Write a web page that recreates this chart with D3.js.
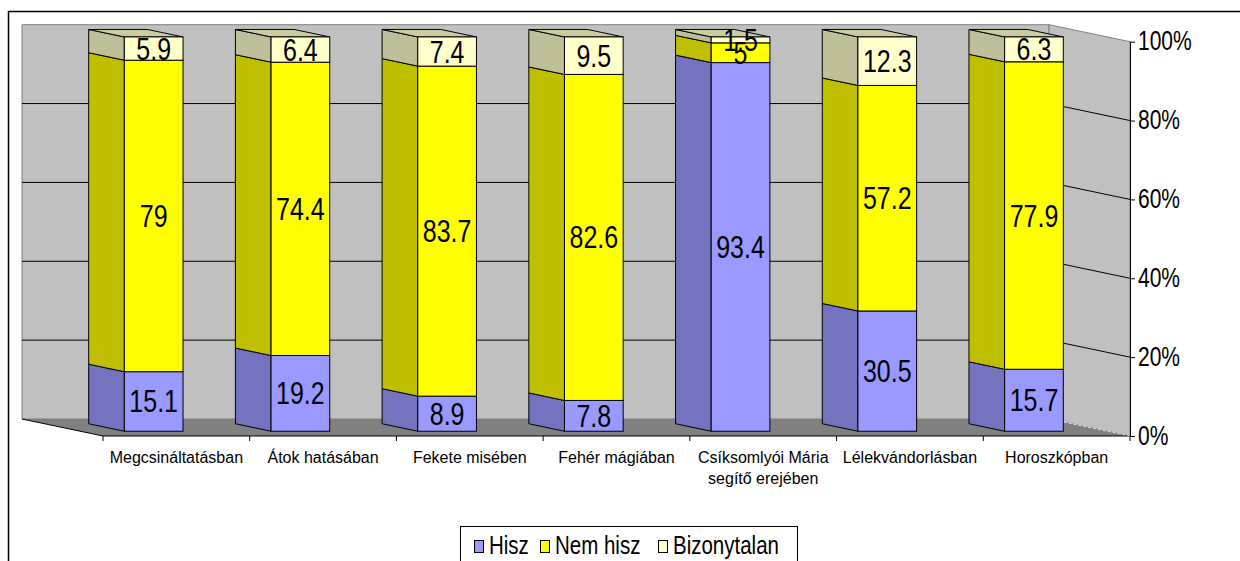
<!DOCTYPE html>
<html>
<head>
<meta charset="utf-8">
<script src="https://cdn.jsdelivr.net/npm/d3@7"></script>
<style>
  body { margin: 0; background: #fff; }
  svg { display: block; font-family: "Liberation Sans", Arial, sans-serif; }
</style>
</head>
<body>
<svg width="1240" height="561"></svg>
<script>
// categories (the "|" marks a line break in the label)
const categories = [
  "Megcsináltatásban",
  "Átok hatásában",
  "Fekete misében",
  "Fehér mágiában",
  "Csíksomlyói Mária|segítő erejében",
  "Lélekvándorlásban",
  "Horoszkópban",
];
const seriesNames = ["Hisz", "Nem hisz", "Bizonytalan"];
const hisz = [15.1, 19.2, 8.9, 7.8, 93.4, 30.5, 15.7];
const nemHisz = [79, 74.4, 83.7, 82.6, 5, 57.2, 77.9];
const bizonytalan = [5.9, 6.4, 7.4, 9.5, 1.5, 12.3, 6.3];
const valueTicks = [0, 0.2, 0.4, 0.6, 0.8, 1];

const frontColor = { "Hisz": "#9999FF", "Nem hisz": "#FFFF00", "Bizonytalan": "#FFFFCC" };
const sideColor = { "Hisz": "#7373BF", "Nem hisz": "#BFBF00", "Bizonytalan": "#BFBF99" };
const topColor = { "Hisz": "#8080D6", "Nem hisz": "#CCCC00", "Bizonytalan": "#CCCCA3" };

const svg = d3.select("svg");

// 3d box: front plane scales + oblique depth offset
const depthDX = 81;
const depthDY = 17;
const zBack = 0.28;
const zFront = 0.72;

const slot = d3.scaleBand().domain(categories).range([103, 1130]).padding(0);
const x = d3.scaleBand().domain(categories).range([103, 1130])
  .paddingInner(0.6).paddingOuter(0.3);
const y = d3.scaleLinear().domain([0, 1]).range([436, 41.7]);

const P = (px, v, z) => [px - (1 - z) * depthDX, y(v) - (1 - z) * depthDY];
const poly = (pts) => "M" + pts.map((p) => p.join(",")).join("L") + "Z";

const rows = categories.map((c, i) => ({
  cat: c,
  "Hisz": hisz[i],
  "Nem hisz": nemHisz[i],
  "Bizonytalan": bizonytalan[i],
}));
const series = d3.stack().keys(seriesNames).offset(d3.stackOffsetExpand)(rows);

// outer frame
svg.append("rect")
  .attr("x", 8.5).attr("y", 11.5)
  .attr("width", 1300).attr("height", 600)
  .attr("fill", "none").attr("stroke", "#000").attr("stroke-width", 1.5);

const x0 = 103, x1 = 1130;

// walls and floor
svg.append("path")
  .attr("d", poly([P(x0, 0, 0), P(x1, 0, 0), P(x1, 1, 0), P(x0, 1, 0)]))
  .attr("fill", "#C0C0C0").attr("stroke", "#808080");
svg.append("path")
  .attr("d", poly([P(x1, 0, 0), P(x1, 0, 1), P(x1, 1, 1), P(x1, 1, 0)]))
  .attr("fill", "#C0C0C0").attr("stroke", "#808080");
svg.append("path")
  .attr("d", poly([P(x0, 0, 0), P(x1, 0, 0), P(x1, 0, 1), P(x0, 0, 1)]))
  .attr("fill", "#808080").attr("stroke", "none");
svg.append("path")
  .attr("d", "M" + P(x0, 0, 0).join(",") + "L" + P(x0, 0, 1).join(",") + "L" + P(x1, 0, 1).join(","))
  .attr("fill", "none").attr("stroke", "#000");
svg.append("path")
  .attr("d", "M" + P(x1, 0, 0).join(",") + "L" + P(x1, 0, 1).join(","))
  .attr("fill", "none").attr("stroke", "#ddd").attr("stroke-dasharray", "3,2");

// gridlines on back and side wall
svg.append("g").selectAll("path")
  .data(valueTicks.filter((v) => v > 0 && v < 1))
  .join("path")
  .attr("d", (v) => "M" + P(x0, v, 0).join(",") + "L" + P(x1, v, 0).join(",") + "L" + P(x1, v, 1).join(","))
  .attr("fill", "none").attr("stroke", "#000");

// bars
const bars = svg.append("g");
categories.forEach((c, i) => {
  const xl = x(c);
  const xr = x(c) + x.bandwidth();
  const g = bars.append("g");
  series.forEach((s) => {
    const [v0, v1] = s[i];
    g.append("path")
      .attr("d", poly([P(xl, v0, zBack), P(xl, v0, zFront), P(xl, v1, zFront), P(xl, v1, zBack)]))
      .attr("fill", sideColor[s.key]).attr("stroke", "#000");
  });
  const last = series[series.length - 1];
  g.append("path")
    .attr("d", poly([P(xl, 1, zBack), P(xr, 1, zBack), P(xr, 1, zFront), P(xl, 1, zFront)]))
    .attr("fill", topColor[last.key]).attr("stroke", "#000");
  series.forEach((s) => {
    const [v0, v1] = s[i];
    const a = P(xl, v1, zFront);
    const b = P(xr, v0, zFront);
    g.append("rect")
      .attr("x", a[0]).attr("y", a[1])
      .attr("width", b[0] - a[0]).attr("height", b[1] - a[1])
      .attr("fill", frontColor[s.key]).attr("stroke", "#000");
  });
});

// data labels
const labels = svg.append("g").attr("font-size", 25).attr("text-anchor", "middle");
categories.forEach((c, i) => {
  const cx = x(c) + x.bandwidth() / 2;
  series.forEach((s) => {
    const [v0, v1] = s[i];
    const p = P(cx, (v0 + v1) / 2, zFront);
    labels.append("text")
      .attr("transform", `translate(${p[0]},${p[1]}) scale(1,1.22)`)
      .attr("dy", "0.36em")
      .text(String(s[i].data[s.key]));
  });
});

// category axis: ticks at slot boundaries, labels under slot centres
const catAxis = svg.append("g");
catAxis.selectAll("line")
  .data(categories.map((c) => slot(c)).concat([x1]))
  .join("line")
  .attr("x1", (d) => d).attr("x2", (d) => d)
  .attr("y1", 436).attr("y2", 441)
  .attr("stroke", "#000");
catAxis.selectAll("text")
  .data(categories)
  .join("text")
  .attr("transform", (c) => `translate(${slot(c) + slot.bandwidth() / 2},463) scale(1,1.08)`)
  .attr("text-anchor", "middle")
  .attr("font-size", 16)
  .each(function (c) {
    c.split("|").forEach((line, k) => {
      d3.select(this).append("tspan")
        .attr("x", 0).attr("y", k * 19.5)
        .text(line);
    });
  });

// value axis on the right
const yAxis = svg.append("g")
  .attr("transform", `translate(${x1},0)`)
  .call(d3.axisRight(y).tickValues(valueTicks).tickFormat(d3.format(".0%")).tickSize(5).tickSizeOuter(0).tickPadding(3));
yAxis.select(".domain").attr("stroke", "#000");
yAxis.selectAll(".tick line").attr("stroke", "#000");
yAxis.selectAll(".tick text")
  .attr("font-family", "Liberation Sans, Arial, sans-serif")
  .attr("font-size", 21)
  .attr("fill", "#000")
  .attr("transform", "scale(1,1.3)")
  .attr("dy", "0.3em");

// legend
const legend = svg.append("g");
legend.append("rect")
  .attr("x", 460.5).attr("y", 526.5).attr("width", 337).attr("height", 60)
  .attr("fill", "#fff").attr("stroke", "#000");
const legendX = [474, 540, 658];
seriesNames.forEach((name, k) => {
  legend.append("rect")
    .attr("x", legendX[k] + 0.5).attr("y", 540.5).attr("width", 9).attr("height", 12)
    .attr("fill", frontColor[name]).attr("stroke", "#000");
  legend.append("text")
    .attr("transform", `translate(${legendX[k] + 15},553.5) scale(1,1.3)`)
    .attr("font-size", 20.5)
    .text(name);
});
</script>
</body>
</html>
